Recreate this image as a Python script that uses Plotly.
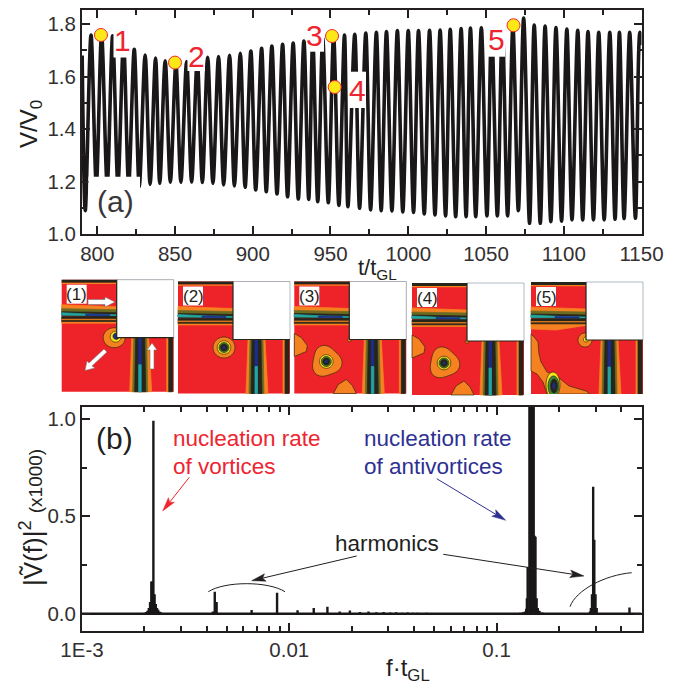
import numpy as np
import plotly.graph_objects as go

W, H = 682, 685
# ---- panel (a): extrema of the voltage oscillation
peak_t = [796, 802.8, 809.9, 816.9, 823.8, 830.8, 837.5, 843.7, 850.6, 857.5, 864.3, 871, 878, 885.1, 892, 898.8, 905.7, 912.3, 919.2, 926, 932.9, 938.6, 945, 952,
          959, 965.6, 972.7, 979.5, 986, 993, 1000, 1006.6, 1013.7, 1020.5, 1027, 1034, 1040, 1047, 1053.6, 1060.5, 1067.3, 1074.2, 1081, 1088, 1095, 1102, 1109, 1115.6, 1122.5, 1129.6, 1135.8, 1142.4, 1149]
peak_v = [1.758, 1.76, 1.755, 1.73, 1.704, 1.682, 1.67, 1.66, 1.648, 1.657, 1.66, 1.673, 1.676, 1.681, 1.688, 1.697, 1.707, 1.716, 1.723, 1.727, 1.735, 1.74, 1.745, 1.755,
          1.758, 1.761, 1.765, 1.768, 1.771, 1.775, 1.775, 1.775, 1.776, 1.777, 1.78, 1.782, 1.784, 1.785, 1.786, 1.788, 1.79, 1.822, 1.796, 1.792, 1.786, 1.781, 1.776, 1.771, 1.768, 1.768, 1.768, 1.768, 1.768]
trough_t = [792.3, 799.4, 806.4, 813.3, 820.2, 827, 834, 840.2, 847, 853.8, 860.7, 867.6, 874.4, 881.3, 888.2, 895.1, 901.9, 908.7, 915.6, 922.4, 929.3, 936, 941.8, 948.6, 955.4,
            961.2, 968.7, 975.8, 982.6, 989.5, 996.5, 1003.4, 1010.3, 1017.2, 1024, 1030.5, 1037.2, 1043.4, 1050.6, 1057.3, 1063.9, 1070.8, 1078, 1084.9, 1091.7, 1098.6, 1105.3, 1112.2, 1119.1, 1126, 1133, 1138.8, 1146.1]
trough_v = [1.09, 1.19, 1.19, 1.19, 1.19, 1.18, 1.19, 1.194, 1.198, 1.198, 1.199, 1.197, 1.194, 1.188, 1.184, 1.179, 1.169, 1.162, 1.153, 1.143, 1.134, 1.133, 1.124, 1.12, 1.11,
            1.105, 1.099, 1.093, 1.09, 1.089, 1.085, 1.083, 1.077, 1.074, 1.07, 1.067, 1.067, 1.067, 1.07, 1.07, 1.07, 1.09, 1.042, 1.042, 1.048, 1.05, 1.055, 1.055, 1.055, 1.055, 1.057, 1.06, 1.061]
start_t, start_v = [790.3], [1.68]
end_t, end_v = [1150.5], [1.72]
state_t = [802.4, 850, 951, 952.7, 1067.7]
state_v = [1.758, 1.653, 1.754, 1.56, 1.795]

# ---- panel (b): spectrum stems
stem_f = [0.00191, 0.00196, 0.00201, 0.00204, 0.00207, 0.00210, 0.00213, 0.00216, 0.00218, 0.00221, 0.00224, 0.00227, 0.00230, 0.00233, 0.00236, 0.0024, 0.00245, 0.0025,
          0.00428, 0.00437, 0.00446, 0.00658, 0.00873, 0.01096, 0.01312, 0.01527, 0.0175, 0.0196, 0.0219, 0.0241,
          0.0263, 0.0285, 0.0307, 0.0328, 0.035, 0.0372, 0.0394, 0.0416, 0.0438, 0.046, 0.0482, 0.0504, 0.0526, 0.0548, 0.057, 0.06, 0.065, 0.07, 0.075, 0.08,
          0.13, 0.134, 0.137, 0.139, 0.14, 0.1412, 0.144, 0.1458, 0.1475, 0.1493, 0.151, 0.1525, 0.154, 0.156, 0.158, 0.161, 0.166,
          0.282, 0.285, 0.2885, 0.2923, 0.296, 0.3, 0.304, 0.4375]
stem_v = [0.002, 0.003, 0.005, 0.009, 0.015, 0.03, 0.06, 0.165, 0.165, 0.99, 0.10, 0.05, 0.03, 0.02, 0.012, 0.007, 0.004, 0.002,
          0.012, 0.113, 0.06, 0.019, 0.108, 0.018, 0.029, 0.036, 0.012, 0.016, 0.009, 0.012,
          0.007, 0.009, 0.006, 0.007, 0.005, 0.006, 0.005, 0.005, 0.004, 0.005, 0.004, 0.004, 0.004, 0.004, 0.003, 0.003, 0.003, 0.003, 0.003, 0.003,
          0.005, 0.008, 0.012, 0.025, 0.08, 0.24, 1.3, 1.3, 1.3, 1.3, 1.3, 0.40, 0.395, 0.08, 0.03, 0.015, 0.006,
          0.012, 0.03, 0.10, 0.651, 0.38, 0.10, 0.03, 0.032]
base_f = [0.001, 0.5]
base_v = [0, 0]

x_ticks_a = [800, 850, 900, 950, 1000, 1050, 1100, 1150]
x_ticks_b = [0.001, 0.01, 0.1]
x_labels_b = ["1E-3", "0.01", "0.1"]
x_minor_b = [0.002, 0.003, 0.004, 0.005, 0.006, 0.007, 0.008, 0.009, 0.02, 0.03, 0.04, 0.05, 0.06, 0.07, 0.08, 0.09, 0.2, 0.3, 0.4]

INK = "#231F20"
RED = "#ED2530"
BLUE = "#2E3192"
FONT = "Liberation Sans"


def px(x):
    return x / W


def py(y):
    return 1 - y / H


def path(points, close=True):
    d = "M " + " L ".join(f"{px(a):.5f} {py(b):.5f}" for a, b in points)
    return d + (" Z" if close else "")


shapes = []


def poly(points, fill, line=None, lw=0.7):
    shapes.append(dict(type="path", xref="paper", yref="paper", path=path(points), fillcolor=fill,
                       line=dict(color=line or fill, width=lw), layer="above"))


def rect(x0, y0, x1, y1, fill, line=None, lw=0):
    shapes.append(dict(type="rect", xref="paper", yref="paper", x0=px(x0), x1=px(x1), y0=py(y1), y1=py(y0),
                       fillcolor=fill, line=dict(color=line or fill, width=lw), layer="above"))


def blob(cx, cy, rx, ry, fill, line="#3a2a10", squeeze=0.0):
    t = np.linspace(0, 2 * np.pi, 40, endpoint=False)
    r = 1 + squeeze * np.cos(3 * t - 0.6)
    poly(list(zip(cx + rx * r * np.cos(t), cy + ry * r * np.sin(t))), fill, line, 0.7)


def curve(d_pts, color, width=1.0):
    a = d_pts
    d = f"M {px(a[0][0]):.5f} {py(a[0][1]):.5f} C " + " ".join(f"{px(p[0]):.5f} {py(p[1]):.5f}" for p in a[1:])
    shapes.append(dict(type="path", xref="paper", yref="paper", path=d, line=dict(color=color, width=width), layer="above"))


C_RED, C_OR, C_DK, C_TEAL, C_BL, C_OL, C_YE, C_GR = "#EE2229", "#F58220", "#25251B", "#22A79F", "#1E2C8E", "#6B6B22", "#F4E41C", "#3B8C3A"


def inset(x0, y0, label, variant):
    s = 112
    L = lambda a, b: (x0 + a, y0 + b)
    R = lambda a, b, c, d, f: rect(x0 + a, y0 + b, x0 + c, y0 + d, f)
    R(0, 0, s, s, C_RED)
    # top channel
    R(0, 0, 55, 3, C_DK)
    R(0, 3, 55, 4.3, C_OR)
    poly([L(0, 25), L(55, 27), L(55, 31), L(0, 30)], C_OR)
    poly([L(0, 29), L(55, 30), L(55, 33), L(0, 32)], C_OL)
    poly([L(0, 32), L(55, 33), L(55, 37), L(0, 36)], C_DK)
    poly([L(0, 33), L(30, 34.5), L(55, 35), L(55, 36), L(0, 35.5)], C_TEAL)
    poly([L(24, 34.6), L(48, 35), L(48, 36), L(24, 35.8)], C_BL)
    poly([L(0, 37), L(55, 37), L(55, 41), L(0, 40)], C_DK)
    poly([L(0, 39.5), L(55, 39.5), L(55, 43.5), L(0, 43.5)], C_OR)
    poly([L(0, 40.8), L(55, 40.8), L(55, 41.8), L(0, 41.8)], C_DK)
    if variant == 5:
        poly([L(0, 43.5), L(55, 43.5), L(25, 48), L(0, 47)], C_OR)
    # vertical channel
    poly([L(70, 58), L(87, 58), L(90, s), L(68, s)], C_OR)
    poly([L(72, 58), L(85, 58), L(86, s), L(71, s)], C_OL)
    poly([L(74, 58), L(83, 58), L(84, s), L(73, s)], C_DK)
    poly([L(77, 58), L(79.5, 58), L(79.5, s), L(77, s)], C_BL)
    poly([L(77, 85), L(79.5, 85), L(79.5, s), L(77, s)], C_TEAL)
    poly([L(105, 58), L(110, 58), L(110, s), L(105, s)], C_OR)
    poly([L(107, 58), L(111, 58), L(111, s), L(107, s)], C_DK)
    # field features
    if variant == 1:
        blob(x0 + 52.5, y0 + 58, 11, 10, C_OR)
        blob(x0 + 54, y0 + 57, 5.5, 5.5, C_YE)
        blob(x0 + 54.5, y0 + 56.5, 3.2, 3.2, C_BL, C_DK)
    elif variant == 2:
        blob(x0 + 46, y0 + 66, 11, 10.5, C_OR)
        blob(x0 + 46, y0 + 66, 6.8, 6.8, C_YE)
        blob(x0 + 46, y0 + 66, 5, 5, C_GR)
        blob(x0 + 46, y0 + 66, 3.6, 3.6, C_DK)
        blob(x0 + 46, y0 + 66, 1.8, 1.8, C_BL, C_DK)
    elif variant in (3, 4):
        poly([L(0, 52), L(7, 56), L(13, 64), L(12, 70), L(0, 75)], C_OR, "#3a2a10")
        poly([L(39, 112), L(44, 103), L(52, 98), L(58, 104), L(62, 112)], C_OR, "#3a2a10")
        blob(x0 + 32, y0 + 80, 14.5, 15, C_OR, squeeze=0.1)
        blob(x0 + 32, y0 + 80, 6.8, 6.8, C_YE)
        blob(x0 + 32, y0 + 80, 5, 5, C_GR)
        blob(x0 + 32, y0 + 80, 3.6, 3.6, C_DK)
        blob(x0 + 32, y0 + 80, 1.8, 1.8, C_BL, C_DK)
        blob(x0 + 55, y0 + 58.5, 1.8, 1.8, C_OR)
    else:
        poly([L(0, 52), L(4, 56), L(7, 60), L(8, 72), L(10, 80), L(16, 90), L(28, 96), L(38, 104), L(55, 109), L(59, 112),
              L(16, 112), L(12, 100), L(6, 92), L(0, 89)], C_OR, "#3a2a10")
        blob(x0 + 54, y0 + 58, 7, 7, C_OR)
        blob(x0 + 55, y0 + 57.5, 2.6, 2.6, C_YE)
        blob(x0 + 22, y0 + 103, 7, 13, C_YE)
        blob(x0 + 22.5, y0 + 104, 5.5, 10, C_GR, C_DK)
        blob(x0 + 23, y0 + 104, 3.5, 7, C_DK)
        blob(x0 + 23, y0 + 104, 1.8, 3.8, C_BL, C_DK)
        rect(x0, y0 + s, x0 + s, y0 + s + 6, "white")
    # notch
    R(55, 0, s, 58, "white")
    shapes.append(dict(type="path", xref="paper", yref="paper", layer="above", line=dict(color="#9AAAB4", width=0.8),
                       path=path([L(55, 0), L(s, 0), L(s, 58)], close=False)))
    shapes.append(dict(type="path", xref="paper", yref="paper", layer="above", line=dict(color=C_DK, width=1.2),
                       path=path([L(55, 0), L(55, 58), L(s, 58)], close=False)))
    rect(x0 + 5, y0 + 5, x0 + 25, y0 + 24, "white")
    annotations.append(dict(x=px(x0 + 15), y=py(y0 + 15), text=label, font=dict(size=17, color=INK, family=FONT),
                            showarrow=False, xref="paper", yref="paper", xanchor="center", yanchor="middle"))


annotations = []


def text(t, x, y, size, color=INK, anchor="center", rot=0):
    annotations.append(dict(x=px(x), y=py(y), text=t, showarrow=False, xref="paper", yref="paper",
                            xanchor=anchor, yanchor="middle", textangle=rot,
                            font=dict(size=size, color=color, family=FONT)))


def arrow(x0, y0, x1, y1, color, width=1.0, head=14, half=3.8):
    d = np.array([x1 - x0, y1 - y0], float)
    d /= np.hypot(*d)
    n = np.array([-d[1], d[0]])
    tip = np.array([x1, y1], float)
    back = tip - d * head
    notch = tip - d * head * 0.8
    neck = tuple(notch)
    shapes.append(dict(type="path", xref="paper", yref="paper", layer="above", line=dict(color=color, width=width),
                       path=path([(x0, y0), neck], close=False)))
    poly([tuple(tip), tuple(back + n * half), neck, tuple(back - n * half)], color, color, 0.5)


fig = go.Figure()
# voltage trace
pairs = sorted(zip(start_t + peak_t + trough_t + end_t, start_v + peak_v + trough_v + end_v))
fig.add_trace(go.Scatter(x=[p[0] for p in pairs], y=[p[1] for p in pairs], mode="lines",
                         line=dict(color="#1A1718", width=3.6, shape="spline", smoothing=0.9),
                         xaxis="x", yaxis="y", showlegend=False, hoverinfo="skip"))
fig.add_trace(go.Scatter(x=state_t, y=state_v, mode="markers",
                         marker=dict(size=13, color="#FCE816", line=dict(color=RED, width=1)),
                         xaxis="x", yaxis="y", showlegend=False, hoverinfo="skip"))
# spectrum
sx, sy = [], []
for f, v in zip(stem_f, stem_v):
    sx += [f, f, None]
    sy += [0, v, None]
fig.add_trace(go.Scatter(x=sx, y=sy, mode="lines", line=dict(color="#1A1718", width=2.4),
                         xaxis="x2", yaxis="y2", showlegend=False, hoverinfo="skip"))
fig.add_trace(go.Scatter(x=base_f, y=base_v, mode="lines", line=dict(color="#1A1718", width=2.6),
                         xaxis="x2", yaxis="y2", showlegend=False, hoverinfo="skip"))

# white label boxes over the trace of panel (a)
rect(113.5, 26, 131, 57.5, "white")
rect(187.5, 40, 205, 71, "white")
rect(307.5, 20, 324, 51.7, "white")
rect(348.3, 71.7, 366, 108, "white")
rect(486.7, 25, 505, 56.7, "white")
rect(88.5, 176.7, 140, 224, "white")

for n, lx, ly in [("1", 122, 40), ("2", 196, 57), ("3", 314, 35), ("4", 357, 90), ("5", 496, 39)]:
    text(n, lx, ly, 30, RED)
text("(a)", 116, 202, 30, "#3B3738")
text("(b)", 114, 439, 30, "#231F20")

text("V/V<sub>0</sub>", 31, 124, 24, rot=-90)
text("t/t<sub>GL</sub>", 378, 269, 22)
text("f·t<sub>GL</sub>", 408, 669, 24)
text("|Ṽ(f)|<sup>2</sup> <span style='font-size:19px'>(x1000)</span>", 31, 518, 26, rot=-90)

text("nucleation rate", 170.5, 438, 22.5, RED, "left")
text("of vortices", 170.5, 466, 22.5, RED, "left")
text("nucleation rate", 361.5, 438, 22.5, BLUE, "left")
text("of antivortices", 361.5, 466, 22.5, BLUE, "left")
text("harmonics", 333, 543, 22.5, INK, "left")

arrow(189.3, 477.3, 162.7, 511, RED)
arrow(436.7, 478.7, 505.7, 520.3, BLUE)
arrow(356.7, 556, 251.7, 580.7, INK)
arrow(443.3, 554.3, 584, 576, INK)

curve([(208.3, 591.7), (225, 581), (268, 581), (285, 591.7)], INK)
curve([(570, 606.7), (576, 590), (605, 575), (631.7, 572.7)], INK)

inset(61.7, 279.7, "(1)", 1)
inset(178, 281.5, "(2)", 2)
inset(294.3, 281.5, "(3)", 3)
inset(412, 283, "(4)", 4)
inset(531, 282, "(5)", 5)


# block arrows of inset (1)
def block(points):
    poly(points, "white", "#777777", 0.6)


block([(88, 299.5), (105, 299.5), (105, 297), (115, 302), (105, 307), (105, 304.5), (88, 304.5)])
block([(150, 369), (150, 350), (147, 350), (152, 343), (157, 350), (154, 350), (154, 369)])
block([(104, 349), (107, 352), (92, 366), (95, 368), (85, 370.5), (87, 361), (89, 363)])

ax_common = dict(showline=True, linecolor=INK, linewidth=2, mirror="allticks", ticks="inside", automargin=False,
                 tickcolor=INK, tickwidth=1.8, ticklen=8, showgrid=False, zeroline=False,
                 tickfont=dict(size=20.5, family=FONT, color="#333031"))
minor_style = dict(ticks="inside", ticklen=5, tickcolor=INK, tickwidth=1.5, showgrid=False)

fig.update_layout(
    width=W, height=H, margin=dict(l=0, r=0, t=0, b=0), paper_bgcolor="white", plot_bgcolor="rgba(0,0,0,0)",
    showlegend=False, shapes=shapes, annotations=annotations,
    xaxis=dict(domain=[px(82), px(641.5)], range=[790.2, 1150], tickvals=x_ticks_a, anchor="y",
               minor=dict(dtick=25, tick0=800, **minor_style), **ax_common),
    yaxis=dict(domain=[py(234.3), py(10)], range=[1.0, 1.853], dtick=0.2, tick0=1.0, tickformat=".1f", anchor="x",
               minor=dict(dtick=0.1, tick0=1.0, **minor_style), **ax_common),
    xaxis2=dict(domain=[px(82), px(641.5)], type="log", range=[-3, np.log10(0.5)], tickvals=x_ticks_b, ticktext=x_labels_b, anchor="y2",
                minor=dict(tickvals=x_minor_b, **minor_style), **ax_common),
    yaxis2=dict(domain=[py(630.7), py(406.7)], range=[-0.087, 1.062], tickvals=[0, 0.5, 1.0], ticktext=["0.0", "0.5", "1.0"], anchor="x2",
                minor=dict(tickvals=[0.25, 0.75], **minor_style), **ax_common),
)

fig.write_html("out.html", config={"displayModeBar": False},
               post_script="document.body.style.margin='0';document.body.style.overflow='hidden';")
